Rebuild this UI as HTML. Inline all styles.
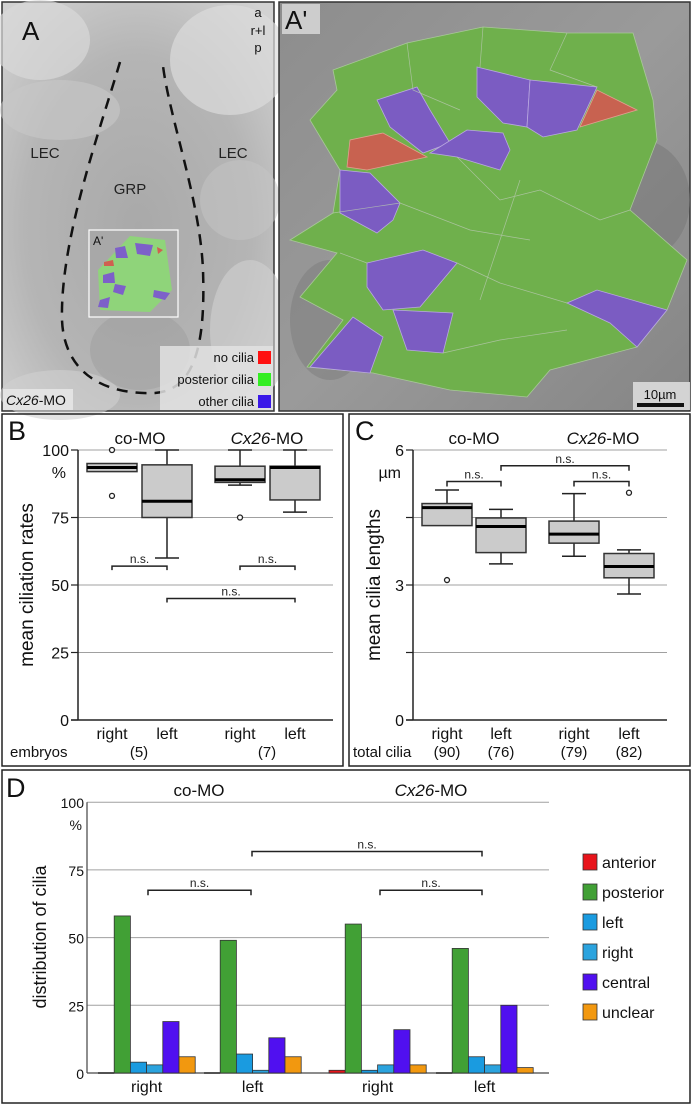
<!DOCTYPE html>
<html><head><meta charset="utf-8">
<style>
html,body{margin:0;padding:0;background:#fff;}
body{width:692px;height:1105px;position:relative;overflow:hidden;font-family:"Liberation Sans",Arial,sans-serif;}
svg text{font-family:"Liberation Sans",Arial,sans-serif;}
</style></head>
<body>
<svg id="fig" width="692" height="1105" viewBox="0 0 692 1105" xmlns="http://www.w3.org/2000/svg">
<defs>
<radialGradient id="semA" cx="0.5" cy="0.55" r="0.7">
<stop offset="0" stop-color="#a9a9a9"/><stop offset="0.6" stop-color="#b5b5b5"/><stop offset="1" stop-color="#d2d2d2"/>
</radialGradient>
<linearGradient id="semB" x1="0" y1="0" x2="1" y2="1">
<stop offset="0" stop-color="#8d8d8d"/><stop offset="0.5" stop-color="#9a9a9a"/><stop offset="1" stop-color="#858585"/>
</linearGradient>
</defs>

<!-- Panel A -->
<g>
<rect x="2" y="2" width="272" height="409" fill="url(#semA)" stroke="#333" stroke-width="1.5"/>
<ellipse cx="40" cy="40" rx="50" ry="40" fill="#d8d8d8" opacity="0.7"/>
<ellipse cx="230" cy="60" rx="60" ry="55" fill="#dcdcdc" opacity="0.7"/>
<ellipse cx="60" cy="110" rx="60" ry="30" fill="#c8c8c8" opacity="0.6"/>
<ellipse cx="240" cy="200" rx="40" ry="40" fill="#c6c6c6" opacity="0.5"/>
<ellipse cx="250" cy="330" rx="40" ry="70" fill="#d0d0d0" opacity="0.6"/>
<ellipse cx="60" cy="395" rx="60" ry="25" fill="#d0d0d0" opacity="0.6"/>
<ellipse cx="140" cy="350" rx="50" ry="40" fill="#999" opacity="0.4"/>
<path d="M120,62 C100,130 60,240 62,320 C64,370 100,395 155,393 C200,390 205,330 203,270 C200,200 170,120 163,66" fill="none" stroke="#111" stroke-width="2.5" stroke-dasharray="11,8"/>
<text x="22" y="40" font-size="26" fill="#111">A</text>
<text x="258" y="17" font-size="13" text-anchor="middle" fill="#111">a</text>
<text x="258" y="35" font-size="13" text-anchor="middle" fill="#111">r+l</text>
<text x="258" y="52" font-size="13" text-anchor="middle" fill="#111">p</text>
<text x="45" y="158" font-size="15" text-anchor="middle" fill="#222">LEC</text>
<text x="233" y="158" font-size="15" text-anchor="middle" fill="#222">LEC</text>
<text x="130" y="194" font-size="15" text-anchor="middle" fill="#222">GRP</text>
<g>
<rect x="89" y="230" width="89" height="87" fill="#a8a8a8" stroke="#fff" stroke-width="1.2"/>
<path d="M98,270 L130,236 L165,240 L172,290 L150,312 L100,310 Z" fill="#8fd47a"/>
<path d="M115,248 L125,246 L128,258 L116,258Z M135,243 L153,245 L150,256 L137,254Z M103,275 L114,272 L115,283 L103,283Z M115,284 L126,286 L123,295 L113,292Z M154,290 L170,293 L165,300 L153,297Z M100,300 L110,297 L108,308 L98,307Z" fill="#7d60c9"/>
<path d="M104,262 L113,260 L114,266 L104,266Z M157,247 L163,250 L158,254Z" fill="#d06050"/>
<text x="93" y="245" font-size="12" fill="#111">A'</text>
</g>
<g>
<rect x="160" y="346" width="113" height="64" fill="#e2e2e2" opacity="0.85"/>
<text x="254" y="362" font-size="13" text-anchor="end" fill="#111">no cilia</text>
<rect x="258" y="351" width="13" height="13" fill="#ff1010"/>
<text x="254" y="384" font-size="13" text-anchor="end" fill="#111">posterior cilia</text>
<rect x="258" y="373" width="13" height="13" fill="#33ee22"/>
<text x="254" y="406" font-size="13" text-anchor="end" fill="#111">other cilia</text>
<rect x="258" y="395" width="13" height="13" fill="#3a18e8"/>
</g>
<rect x="3" y="389" width="70" height="21" fill="#e6e6e6" opacity="0.9"/>
<text x="6" y="405" font-size="14" fill="#111"><tspan font-style="italic">Cx26</tspan>-MO</text>
</g>

<!-- Panel A' -->
<g>
<rect x="279" y="2" width="411" height="409" fill="url(#semB)" stroke="#333" stroke-width="1.5"/>
<ellipse cx="640" cy="200" rx="50" ry="60" fill="#7a7a7a" opacity="0.6"/>
<ellipse cx="330" cy="320" rx="40" ry="60" fill="#7c7c7c" opacity="0.5"/>
<path id="greenBlob" fill="#6fb04c" stroke="#a8c898" stroke-width="0.8"
d="M333,70 L407,43 L483,27 L567,33 L633,33 L653,100 L657,140 L630,210 L687,260 L667,310 L637,347 L550,370 L527,397 L450,390 L373,373 L307,367 L343,320 L300,297 L337,253 L290,240 L333,213 L340,170 L310,120 L337,90 Z"/>
<g fill="#7b5cc2" stroke="#b9a8e0" stroke-width="0.8">
<path d="M477,67 L530,80 L527,127 L503,123 L477,97Z"/>
<path d="M530,80 L597,87 L577,130 L543,137 L527,127Z"/>
<path d="M377,100 L417,87 L430,110 L450,143 L423,153 L390,127Z"/>
<path d="M430,153 L467,130 L503,133 L510,150 L500,170 L457,157Z"/>
<path d="M340,170 L370,173 L400,203 L393,220 L377,233 L340,213Z"/>
<path d="M367,263 L423,250 L457,263 L420,307 L383,310 L367,287Z"/>
<path d="M393,310 L453,313 L443,353 L407,350Z"/>
<path d="M310,367 L353,317 L383,337 L370,373Z"/>
<path d="M567,303 L597,290 L667,310 L637,347 L610,323Z"/>
</g>
<g fill="#c86250" stroke="#e0a090" stroke-width="0.8">
<path d="M580,127 L597,90 L637,110Z"/>
<path d="M347,167 L350,140 L383,133 L427,157 L367,170Z"/>
</g>
<g stroke="#b8c8b0" stroke-width="0.7" fill="none" opacity="0.8">
<path d="M407,43 L413,90 L460,110 M483,27 L480,67 M567,33 L550,70 L597,87 M333,213 L400,203 M457,157 L500,200 L540,190 L600,220 L630,210 M400,203 L470,230 L530,240 M340,253 L367,263 M457,263 L500,283 L567,303 M443,353 L500,340 L567,330 M520,180 L500,240 L480,300"/>
</g>
<rect x="282" y="4" width="38" height="30" fill="#d8d8d8" opacity="0.85"/>
<text x="285" y="29" font-size="26" fill="#111">A'</text>
<g>
<rect x="633" y="382" width="57" height="28" fill="#dcdcdc" opacity="0.9"/>
<text x="660" y="399" font-size="13" text-anchor="middle" fill="#111">10µm</text>
<rect x="637" y="403" width="47" height="4" fill="#111"/>
</g>
</g>

<!-- Panel frames -->
<rect x="2" y="414" width="341" height="352" fill="none" stroke="#222" stroke-width="1.5"/>
<rect x="349" y="414" width="341" height="352" fill="none" stroke="#222" stroke-width="1.5"/>
<rect x="2" y="770" width="688" height="333" fill="none" stroke="#222" stroke-width="1.5"/>
<g id="gB"></g>
<g id="gC"></g>
<g id="gD"></g>
</svg>

<script>
// ---- Panel B data (mean ciliation rates, %) ----
const bCategories = ["right", "left", "right", "left"];
const bQ1 = [92, 75, 88, 81.5];
const bMedian = [93.5, 81, 89, 93.5];
const bQ3 = [95, 94.5, 94, 94];
const bWhiskerLo = [92, 60, 87, 77];
const bWhiskerHi = [95, 100, 100, 100];
const bOutliers = [[100, 83], [], [75], []];
const bTicks = [0, 25, 50, 75, 100];
const bGroups = ["co-MO", "Cx26-MO"];
const bCounts = ["(5)", "(7)"];

// ---- Panel C data (mean cilia lengths, µm) ----
const cCategories = ["right", "left", "right", "left"];
const cQ1 = [4.32, 3.72, 3.93, 3.16];
const cMedian = [4.72, 4.30, 4.13, 3.41];
const cQ3 = [4.81, 4.49, 4.42, 3.70];
const cWhiskerLo = [4.32, 3.47, 3.64, 2.80];
const cWhiskerHi = [5.11, 4.68, 5.03, 3.78];
const cOutliers = [[3.11], [], [], [5.05]];
const cTicks = [0, 1.5, 3, 4.5, 6];
const cTickLabels = ["0", "", "3", "", "6"];
const cCounts = ["(90)", "(76)", "(79)", "(82)"];

// ---- Panel D data (distribution of cilia, %) ----
const dCategories = ["right", "left", "right", "left"];
const dSeries = ["anterior", "posterior", "left", "right", "central", "unclear"];
const dAnterior = [0, 0, 1, 0];
const dPosterior = [58, 49, 55, 46];
const dLeft = [4, 7, 1, 6];
const dRight = [3, 1, 3, 3];
const dCentral = [19, 13, 16, 25];
const dUnclear = [6, 6, 3, 2];
const dTicks = [0, 25, 50, 75, 100];

const NS = "http://www.w3.org/2000/svg";
function mk(parent, tag, attrs, text) {
  const e = document.createElementNS(NS, tag);
  for (const k in attrs) e.setAttribute(k, attrs[k]);
  if (text !== undefined) e.textContent = text;
  parent.appendChild(e);
  return e;
}
function groupTitle(parent, x, y, label, size) {
  const t = mk(parent, "text", {x: x, y: y, "font-size": size, "text-anchor": "middle", fill: "#111"});
  
  
  if (label.indexOf("Cx26") === 0) {
    mk(t, "tspan", {"font-style": "italic"}, "Cx26");
    mk(t, "tspan", {}, "-MO");
  } else t.textContent = label;
  return t;
}
function bracket(parent, x1, x2, y, h) {
  const p = mk(parent, "path", {d: `M${x1},${y + h} L${x1},${y} L${x2},${y} L${x2},${y + h}`, fill: "none", stroke: "#222", "stroke-width": 1.5});
  
  
  const t = mk(parent, "text", {x: (x1 + x2) / 2, y: y - 3, "font-size": 12, "text-anchor": "middle", fill: "#222"}, "n.s.");
  
  
}

function boxChart(g, cfg) {
  const y = v => cfg.y0 - (v - 0) * cfg.k;
  cfg.ticks.forEach((v, i) => {
    if (v > 0) {
      const l = mk(g, "line", {x1: cfg.ax, x2: cfg.gx2, y1: y(v), y2: y(v), stroke: "#a0a0a0", "stroke-width": 1});
      
      
    }
    mk(g, "line", {x1: cfg.ax - 7, x2: cfg.ax, y1: y(v), y2: y(v), stroke: "#222", "stroke-width": 1.2});
    const lab = cfg.tickLabels ? cfg.tickLabels[i] : String(v);
    if (lab) {
      const t = mk(g, "text", {x: cfg.ax - 9, y: y(v) + 6, "font-size": 16, "text-anchor": "end", fill: "#111"}, lab);
      
      
    }
  });
  const topV = cfg.ticks[cfg.ticks.length - 1];
  mk(g, "text", {x: cfg.ax - 12, y: y(topV) + 28, "font-size": 16, "text-anchor": "end", fill: "#111"}, cfg.unit);
  const axis = mk(g, "line", {x1: cfg.ax, x2: cfg.ax, y1: y(topV), y2: y(0), stroke: "#222", "stroke-width": 1.5});
  
  
  const xaxis = mk(g, "line", {x1: cfg.ax - 7, x2: cfg.gx2, y1: y(0), y2: y(0), stroke: "#222", "stroke-width": 1.5});
  
  
  const yt = mk(g, "text", {x: 0, y: 0, "font-size": 19, "text-anchor": "middle", fill: "#111", transform: `translate(${cfg.titleX},${cfg.titleY}) rotate(-90)`}, cfg.yTitle);
  
  
  cfg.centers.forEach((cx, i) => {
    const hw = 25;
    const bg = mk(g, "g", {});
    
    
    if (cfg.wHi[i] > cfg.q3[i]) {
      mk(bg, "line", {x1: cx, x2: cx, y1: y(cfg.q3[i]), y2: y(cfg.wHi[i]), stroke: "#222", "stroke-width": 1.5});
      mk(bg, "line", {x1: cx - 12, x2: cx + 12, y1: y(cfg.wHi[i]), y2: y(cfg.wHi[i]), stroke: "#222", "stroke-width": 1.5});
    }
    if (cfg.wLo[i] < cfg.q1[i]) {
      mk(bg, "line", {x1: cx, x2: cx, y1: y(cfg.q1[i]), y2: y(cfg.wLo[i]), stroke: "#222", "stroke-width": 1.5});
      mk(bg, "line", {x1: cx - 12, x2: cx + 12, y1: y(cfg.wLo[i]), y2: y(cfg.wLo[i]), stroke: "#222", "stroke-width": 1.5});
    }
    mk(bg, "rect", {x: cx - hw, y: y(cfg.q3[i]), width: hw * 2, height: Math.max(1, y(cfg.q1[i]) - y(cfg.q3[i])), fill: "#cbcbcb", stroke: "#333", "stroke-width": 1.5});
    mk(bg, "line", {x1: cx - hw, x2: cx + hw, y1: y(cfg.med[i]), y2: y(cfg.med[i]), stroke: "#000", "stroke-width": 3});
    cfg.out[i].forEach(v => {
      const c = mk(bg, "circle", {cx: cx, cy: y(v), r: 2.5, fill: "#fff", stroke: "#222", "stroke-width": 1.3});
      
      
    });
    const xl = mk(g, "text", {x: cx, y: 739, "font-size": 16, "text-anchor": "middle", fill: "#111"}, cfg.cats[i]);
    
    
  });
  return y;
}

// Panel B
(function () {
  const g = document.getElementById("gB");
  mk(g, "text", {x: 8, y: 440, "font-size": 27, fill: "#111"}, "B");
  const cB = [112, 167, 240, 295];
  const y = boxChart(g, {y0: 720, k: 2.7, ax: 78, gx2: 333, ticks: bTicks, unit: "%", yTitle: "mean ciliation rates", titleX: 33, titleY: 585,
    centers: cB, q1: bQ1, med: bMedian, q3: bQ3, wLo: bWhiskerLo, wHi: bWhiskerHi, out: bOutliers, cats: bCategories});
  groupTitle(g, 140, 444, bGroups[0], 17);
  groupTitle(g, 267, 444, bGroups[1], 17);
  bracket(g, cB[0], cB[1], y(57), 4);
  bracket(g, cB[2], cB[3], y(57), 4);
  bracket(g, cB[1], cB[3], y(45), 4);
  mk(g, "text", {x: 10, y: 757, "font-size": 15, fill: "#111"}, "embryos");
  mk(g, "text", {x: 139, y: 757, "font-size": 15, "text-anchor": "middle", fill: "#111"}, bCounts[0]);
  mk(g, "text", {x: 267, y: 757, "font-size": 15, "text-anchor": "middle", fill: "#111"}, bCounts[1]);
})();

// Panel C
(function () {
  const g = document.getElementById("gC");
  mk(g, "text", {x: 355, y: 440, "font-size": 27, fill: "#111"}, "C");
  const cC = [447, 501, 574, 629];
  const y = boxChart(g, {y0: 720, k: 45, ax: 413, gx2: 667, ticks: cTicks, tickLabels: cTickLabels, unit: "µm", yTitle: "mean cilia lengths", titleX: 380, titleY: 585,
    centers: cC, q1: cQ1, med: cMedian, q3: cQ3, wLo: cWhiskerLo, wHi: cWhiskerHi, out: cOutliers, cats: cCategories});
  groupTitle(g, 474, 444, "co-MO", 17);
  groupTitle(g, 603, 444, "Cx26-MO", 17);
  bracket(g, cC[0], cC[1], y(5.3), 5);
  bracket(g, cC[2], cC[3], y(5.3), 5);
  bracket(g, cC[1], cC[3], y(5.65), 5);
  mk(g, "text", {x: 353, y: 757, "font-size": 15, fill: "#111"}, "total cilia");
  cC.forEach((cx, i) => mk(g, "text", {x: cx, y: 757, "font-size": 15, "text-anchor": "middle", fill: "#111"}, cCounts[i]));
})();

// Panel D
(function () {
  const g = document.getElementById("gD");
  mk(g, "text", {x: 6, y: 797, "font-size": 27, fill: "#111"}, "D");
  const y0 = 1073, k = 2.708, ax = 87, gx2 = 549;
  const y = v => y0 - v * k;
  dTicks.forEach(v => {
    const l = mk(g, "line", {x1: ax, x2: gx2, y1: y(v), y2: y(v), stroke: v === 0 ? "#666" : "#a0a0a0", "stroke-width": v === 0 ? 1.5 : 1});
    
    
    const t = mk(g, "text", {x: 84, y: y(v) + 6, "font-size": 14, "text-anchor": "end", fill: "#111"}, String(v));
    
    
  });
  mk(g, "text", {x: 82, y: y(100) + 28, "font-size": 14, "text-anchor": "end", fill: "#111"}, "%");
  const axis = mk(g, "line", {x1: ax, x2: ax, y1: y(100), y2: y(0), stroke: "#444", "stroke-width": 1.2});
  
  
  const yt = mk(g, "text", {x: 0, y: 0, "font-size": 18, "text-anchor": "middle", fill: "#111", transform: `translate(46,937) rotate(-90)`}, "distribution of cilia");
  
  
  groupTitle(g, 199, 796, "co-MO", 17);
  groupTitle(g, 431, 796, "Cx26-MO", 17);
  const seriesVals = [dAnterior, dPosterior, dLeft, dRight, dCentral, dUnclear];
  const colors = ["#e8141b", "#41a035", "#1a9be0", "#2ba3de", "#5010f0", "#f2980f"];
  const groupStart = [98, 204, 329, 436];
  const bw = 16.2;
  dCategories.forEach((cat, gi) => {
    seriesVals.forEach((vals, si) => {
      const v = vals[gi];
      const x = groupStart[gi] + si * bw;
      if (v > 0) {
        const r = mk(g, "rect", {x: x, y: y(v), width: bw, height: v * k, fill: colors[si], stroke: "#333", "stroke-width": 0.8});
        
        
      } else {
        mk(g, "line", {x1: x, x2: x + bw, y1: y0, y2: y0, stroke: "#333", "stroke-width": 1.5});
      }
    });
    const xl = mk(g, "text", {x: groupStart[gi] + 3 * bw, y: 1092, "font-size": 16, "text-anchor": "middle", fill: "#111"}, cat);
    
    
  });
  bracket(g, 148, 251, y(67.5), 5);
  bracket(g, 380, 482, y(67.5), 5);
  bracket(g, 252, 482, y(81.8), 5);
  const lg = mk(g, "g", {});
  
  
  const ly = [862, 892, 922, 952, 982, 1012];
  dSeries.forEach((s, i) => {
    const r = mk(lg, "rect", {x: 583, y: ly[i] - 8, width: 14, height: 16, fill: colors[i], stroke: "#333", "stroke-width": 0.8});
    
    
    const t = mk(lg, "text", {x: 602, y: ly[i] + 6, "font-size": 16, fill: "#111"}, s);
    
    
  });
})();
</script>
</body></html>
